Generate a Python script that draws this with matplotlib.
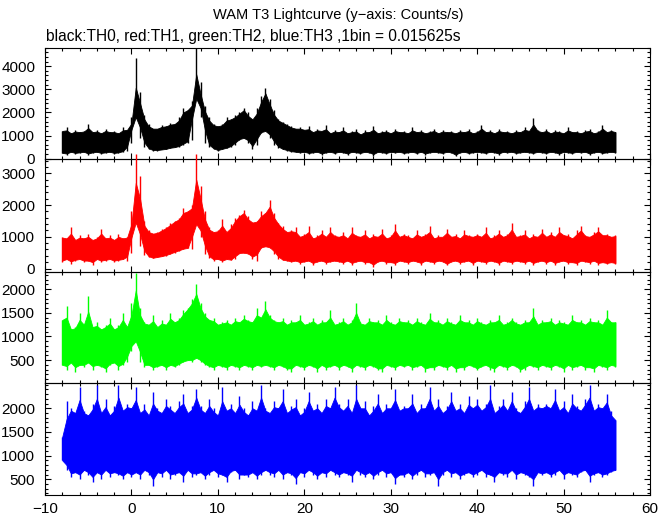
import numpy as np
import matplotlib
matplotlib.use("Agg")
import matplotlib.pyplot as plt
from matplotlib.ticker import MultipleLocator, FixedLocator

plt.rcParams['font.family'] = ['Liberation Sans', 'DejaVu Sans']

# bin times (s), data at 0.5 s resolution
time = np.arange(-8.0, 56.01, 0.5)

# ---- TH0 (black): upper / lower envelope of the light curve (counts/s)
th0_hi = [1200,1350,1100,1250,1150,1200,1500,1150,1250,1100,1300,1150,1200,1100,1350,1250,
          1800,4350,2900,1900,1500,1300,1300,1450,1400,1550,1500,1800,2200,2100,2500,4800,
          3300,2300,1800,1500,1400,1500,1800,1700,1900,2000,2200,2000,1700,2200,2700,3050,
          2600,2100,1700,1600,1500,1400,1300,1350,1250,1400,1150,1300,1200,1450,1100,1250,
          1150,1350,1100,1200,1300,1050,1250,1150,1400,1100,1200,1250,1100,1300,1150,1200,
          1100,1350,1150,1250,1100,1200,1300,1100,1250,1150,1200,1100,1250,1150,1300,1100,
          1200,1450,1150,1250,1100,1300,1150,1200,1100,1250,1150,1350,1200,1750,1250,1150,
          1300,1100,1250,1200,1100,1350,1150,1200,1100,1250,1300,1100,1200,1450,1150,1250,
          1150]
th0_lo = [250,150,300,200,250,300,150,250,300,200,250,300,200,250,300,350,
          700,1800,900,500,400,350,350,400,400,450,500,500,600,700,800,2600,
          1800,700,500,400,350,400,450,500,600,800,900,700,400,600,1100,1200,
          900,600,450,400,350,300,300,250,300,200,250,300,150,250,300,200,
          300,250,150,300,250,200,300,250,100,300,250,200,300,250,300,200,
          250,300,200,300,150,250,300,250,200,300,250,100,250,300,200,250,
          300,250,200,300,250,150,300,250,300,200,250,300,250,200,300,250,
          200,300,250,150,300,250,200,300,250,300,150,250,300,200,250,300,
          250]

# ---- TH1 (red)
th1_hi = [1000,950,1300,900,1050,950,1100,900,1000,1250,950,1050,900,1100,950,1000,
          1800,3600,2900,1500,1200,1100,1150,1250,1300,1450,1500,1600,1900,1800,2000,3600,
          2600,1800,1300,1150,1200,1550,1150,1400,1600,1700,1850,1650,1450,1500,1800,1750,
          2150,1750,1450,1350,1150,1200,1300,1000,1100,1350,950,1050,1200,1000,1300,1050,
          1000,1150,950,1300,1050,1000,1200,950,1100,1000,1250,950,1050,1400,1000,1100,
          1050,950,1200,1000,1100,1350,950,1050,1000,1250,1000,1100,950,1200,1050,1000,
          1100,1000,1300,950,1050,1200,1000,1100,1450,1000,1050,1200,950,1100,1000,1250,
          1000,1150,1000,1300,1050,1100,950,1200,1350,1050,1000,1150,1300,1050,1100,1000,
          1050]
th1_lo = [200,300,150,250,300,200,250,100,300,200,250,300,200,250,300,250,
          500,1450,700,420,350,330,350,380,400,450,500,550,600,650,600,1400,
          1000,450,330,250,300,200,300,260,300,480,500,450,300,250,640,700,
          640,450,300,260,250,200,250,150,200,250,100,200,250,150,200,250,
          200,150,250,100,200,250,150,200,50,200,250,150,200,100,250,200,
          150,250,200,100,250,200,150,250,200,100,200,250,150,200,250,100,
          250,200,150,250,200,100,250,200,150,250,200,150,250,100,200,250,
          150,250,100,200,250,150,200,100,250,200,150,250,100,200,150,200,
          150]

# ---- TH2 (green)
th2_hi = [1350,1650,1150,1200,1500,1250,1850,1200,1300,1150,1250,1400,1150,1250,1500,1200,
          1700,2350,1600,1300,1250,1450,1200,1350,1250,1500,1300,1400,1550,1600,1800,2100,
          1700,1500,1350,1400,1250,1300,1350,1250,1400,1300,1450,1350,1300,1600,1400,1750,
          1450,1350,1300,1400,1250,1350,1300,1450,1250,1300,1400,1250,1350,1300,1550,1250,
          1300,1400,1250,1350,1700,1300,1250,1400,1300,1350,1250,1450,1300,1250,1400,1300,
          1350,1250,1400,1300,1250,1500,1300,1350,1250,1400,1300,1250,1450,1300,1350,1250,
          1400,1300,1250,1350,1300,1450,1250,1300,1400,1300,1250,1350,1300,1600,1250,1350,
          1300,1400,1250,1350,1300,1250,1450,1300,1350,1250,1400,1300,1350,1250,1550,1300,
          1300]
th2_lo = [400,300,450,250,400,350,450,300,400,350,250,400,450,300,400,450,
          700,900,450,350,400,300,350,400,300,400,350,400,450,500,450,550,
          450,400,350,300,400,350,300,400,350,300,400,350,300,400,350,400,
          350,300,400,350,300,250,400,350,300,400,350,250,400,300,350,400,
          300,400,350,250,400,350,300,400,350,300,250,400,350,300,400,350,
          400,300,350,400,250,350,300,400,350,300,400,250,350,300,400,350,
          300,350,400,300,250,400,350,300,400,350,250,300,400,350,300,400,
          350,300,400,350,250,400,300,350,400,300,350,250,400,350,300,400,
          350]

# ---- TH3 (blue)
th3_hi = [1400,2150,2000,1900,2450,1950,1850,2100,2500,1900,2200,1850,2050,2500,1950,2100,
          2000,2450,1900,2100,1850,2350,2000,1900,2200,2050,1900,2150,2300,1900,2050,2400,
          2050,1900,2200,2000,1850,2450,1950,2100,1900,2250,2000,1850,2150,1950,2500,2000,
          1900,2150,2000,2400,1900,2050,2200,1850,2000,2350,1950,2100,1900,2200,2000,2450,
          2100,1950,2200,1900,2500,2000,2150,1850,2050,2300,1900,2100,2000,2400,1950,2050,
          2000,2300,1900,2100,2000,2450,1950,2200,1900,2050,2350,1950,2100,1900,2250,2000,
          2200,1950,2100,2500,1900,2050,2200,1950,2350,2000,1900,2150,2450,1950,2100,2000,
          2100,2000,2400,1950,2150,1900,2300,2050,1950,2200,2500,1950,2100,2000,2300,1950,
          1750]
th3_lo = [900,700,550,650,500,700,600,450,650,500,700,550,650,600,500,650,
          550,650,500,700,600,350,650,550,700,500,600,650,450,700,550,600,
          650,500,600,700,550,600,450,650,700,500,600,550,650,500,600,700,
          600,550,700,500,650,600,400,650,550,700,600,500,650,550,700,600,
          550,650,600,450,700,600,550,650,500,600,700,550,650,400,600,550,
          650,500,600,700,550,600,650,350,600,700,550,650,500,600,650,550,
          600,700,550,600,450,650,600,550,700,500,650,600,550,350,650,600,
          650,550,600,700,500,650,600,550,650,700,450,600,650,550,600,650,
          700]

series = [(th0_lo, th0_hi, '#000000'), (th1_lo, th1_hi, '#ff0000'),
          (th2_lo, th2_hi, '#00ff00'), (th3_lo, th3_hi, '#0000ff')]
ylims = [(0, 4800), (-100, 3460), (10, 2370), (168, 2528)]
yticks = [[0, 1000, 2000, 3000, 4000], [0, 1000, 2000, 3000],
          [500, 1000, 1500, 2000], [500, 1000, 1500, 2000]]
yminor = [200, 200, 100, 100]


def core_band(lo, hi):
    """Solid part of the noisy band: each extreme pulled half-way toward
    the less extreme of its two neighbours (the spikes are drawn as lines)."""
    lo = np.asarray(lo, float)
    hi = np.asarray(hi, float)
    hp = np.pad(hi, 1, mode='edge')
    lp = np.pad(lo, 1, mode='edge')
    hmin = np.minimum(hp[:-2], hp[2:])
    lmax = np.maximum(lp[:-2], lp[2:])
    chi = np.minimum(hi, 0.5 * (hi + hmin))
    clo = np.maximum(lo, 0.5 * (lo + lmax))
    clo = np.minimum(clo, chi)
    return lo, hi, clo, chi


W, H = 672, 515
fig = plt.figure(figsize=(W / 100, H / 100), dpi=100)
left, right = 45 / W, 650 / W
panels_px = [(47.7, 158.7), (158.7, 271.7), (271.7, 383.3), (383.3, 495.0)]

for k, ((lo, hi, col), (top, bot)) in enumerate(zip(series, panels_px)):
    ax = fig.add_axes([left, 1 - bot / H, right - left, (bot - top) / H])
    lo_a, hi_a, clo, chi = core_band(lo, hi)
    unclip = (k == 1)
    ax.fill_between(time, clo, chi, color=col, lw=0.6, edgecolor=col,
                    clip_on=not unclip, zorder=3 if unclip else 2)
    ax.vlines(time, lo_a, hi_a, color=col, lw=1.0,
              clip_on=not unclip, zorder=3 if unclip else 2)
    ax.set_xlim(-10, 60)
    ax.set_ylim(*ylims[k])
    ax.yaxis.set_major_locator(FixedLocator(yticks[k]))
    ax.yaxis.set_minor_locator(MultipleLocator(yminor[k]))
    ax.xaxis.set_major_locator(MultipleLocator(10))
    ax.xaxis.set_minor_locator(MultipleLocator(2))
    ax.tick_params(which='both', direction='in', top=True, right=True,
                   width=0.8, labelsize=11, colors='black')
    ax.tick_params(which='major', length=4.5, pad=7)
    ax.tick_params(which='minor', length=2.3)
    ax.tick_params(axis='x', which='major', pad=5)
    for s in ax.spines.values():
        s.set_linewidth(0.8)
    if k < 3:
        ax.tick_params(labelbottom=False)
    ax.patch.set_alpha(0)

fig.text(0.503, 1 - 15 / H, "WAM T3 Lightcurve (y\u2212axis: Counts/s)",
         ha='center', va='center', fontsize=10.5)
fig.text(46 / W, 1 - 36 / H, "black:TH0, red:TH1, green:TH2, blue:TH3 ,1bin = 0.015625s",
         ha='left', va='center', fontsize=11.2)

fig.savefig("out.png", dpi=100)
